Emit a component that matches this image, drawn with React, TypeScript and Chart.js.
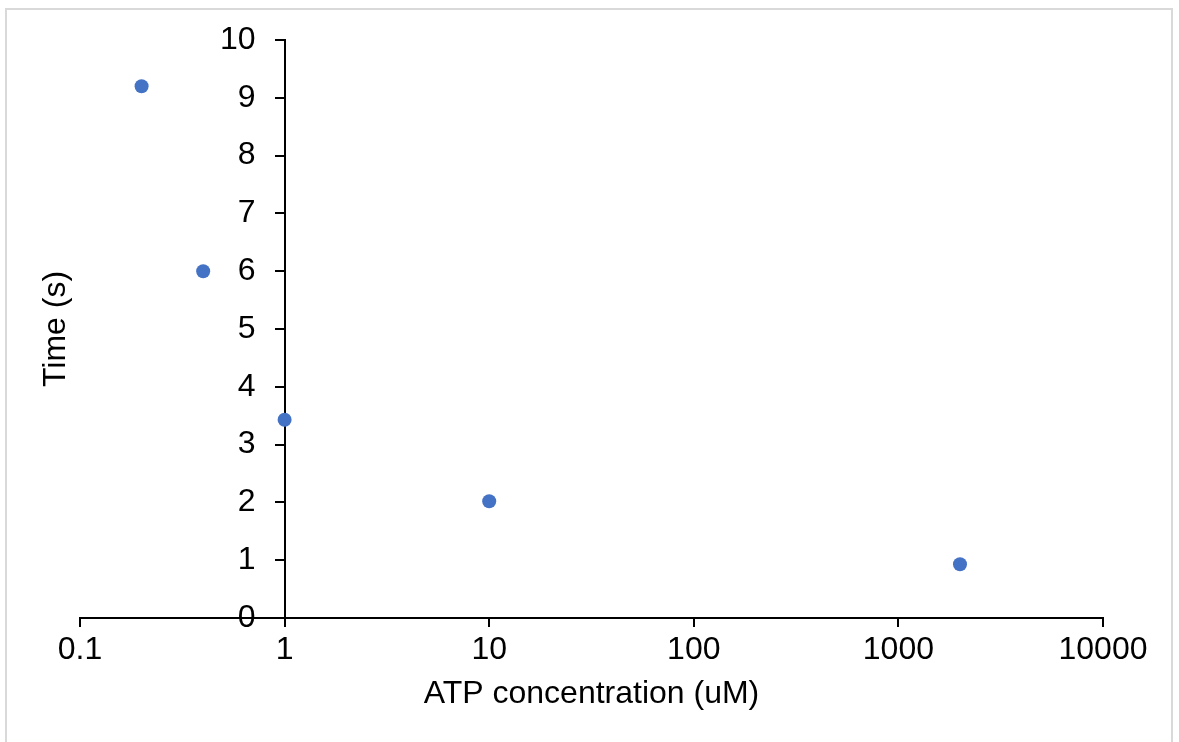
import React, { useEffect, useRef } from 'react';
import { Chart, registerables } from 'chart.js';

Chart.register(...registerables);

const xValues = [0.2, 0.4, 1, 10, 2000];
const yValues = [9.2, 6.0, 3.43, 2.02, 0.93];
const xTicks = [0.1, 1, 10, 100, 1000, 10000];
const xTickLabels = ['0.1', '1', '10', '100', '1000', '10000'];
const yMin = 0;
const yMax = 10;
const yStep = 1;
const xTitle = 'ATP concentration (uM)';
const yTitle = 'Time (s)';

const W = 1179;
const H = 742;
const FONT = '"Liberation Sans", Arial, sans-serif';
const FS = 32;
const Y_LABEL_SHIFT = 29;

const borderPlugin = {
  id: 'outerBorder',
  beforeDraw(chart: any) {
    const ctx = chart.ctx;
    ctx.save();
    ctx.fillStyle = '#ffffff';
    ctx.fillRect(0, 0, chart.width, chart.height);
    ctx.strokeStyle = '#d9d9d9';
    ctx.lineWidth = 2;
    ctx.strokeRect(6, 9, 1166, 800);
    ctx.restore();
  },
};

export default function App() {
  const ref = useRef<HTMLCanvasElement | null>(null);

  useEffect(() => {
    if (!ref.current) return;
    const zeroPad = (scale: any) => {
      scale.paddingLeft = 0;
      scale.paddingRight = 0;
      scale.paddingTop = 0;
      scale.paddingBottom = 0;
    };
    const chart = new Chart(ref.current, {
      type: 'scatter',
      data: {
        datasets: [
          {
            label: 'Time',
            data: xValues.map((x, i) => ({ x, y: yValues[i] })),
            backgroundColor: '#4472C4',
            borderColor: '#4472C4',
            borderWidth: 0,
            pointRadius: 7,
            pointHoverRadius: 7,
          },
        ],
      },
      options: {
        animation: false,
        responsive: false,
        devicePixelRatio: 1,
        layout: { padding: { left: 0, top: 40, right: W - 1103, bottom: 0 } },
        plugins: {
          legend: { display: false },
          tooltip: { enabled: false },
          title: {
            display: true,
            text: yTitle,
            position: 'left',
            fullSize: false,
            color: '#000000',
            font: { family: FONT, size: FS, weight: 'normal', lineHeight: 1.2 },
            padding: { top: 37, bottom: 4.6 },
          },
        },
        scales: {
          x: {
            type: 'logarithmic',
            position: 'bottom',
            min: xTicks[0],
            max: xTicks[xTicks.length - 1],
            afterBuildTicks: (scale: any) => {
              scale.ticks = xTicks.map((v) => ({ value: v }));
            },
            afterFit: (scale: any) => {
              zeroPad(scale);
              scale.height = H - 618;
            },
            ticks: {
              autoSkip: false,
              maxRotation: 0,
              color: '#000000',
              padding: 4,
              font: { family: FONT, size: FS },
              callback: (value: any) => {
                const i = xTicks.indexOf(Number(value));
                return i >= 0 ? xTickLabels[i] : '';
              },
            },
            grid: {
              display: true,
              drawOnChartArea: false,
              drawTicks: true,
              tickLength: 9,
              color: '#000000',
              lineWidth: 2,
            },
            border: { display: true, color: '#000000', width: 2 },
            title: {
              display: true,
              text: xTitle,
              color: '#000000',
              font: { family: FONT, size: FS },
              padding: { top: 0, bottom: 29 },
            },
          },
          y: {
            type: 'linear',
            position: { x: 1 } as any,
            min: yMin,
            max: yMax,
            afterFit: (scale: any) => {
              zeroPad(scale);
              if (!scale.__wrapped) {
                const orig = scale._computeLabelItems;
                scale._computeLabelItems = function (area: any) {
                  const items = orig.call(this, area);
                  items.forEach((it: any) => {
                    if (it.options && it.options.translation) {
                      it.options.translation = [it.options.translation[0] - Y_LABEL_SHIFT, it.options.translation[1]];
                    }
                  });
                  return items;
                };
                scale.__wrapped = true;
              }
            },
            ticks: {
              stepSize: yStep,
              color: '#000000',
              padding: 0,
              font: { family: FONT, size: FS },
            },
            grid: {
              display: true,
              drawOnChartArea: false,
              drawTicks: true,
              tickLength: 9,
              color: '#000000',
              lineWidth: 2,
            },
            border: { display: true, color: '#000000', width: 2 },
          },
        },
      },
      plugins: [borderPlugin],
    } as any);
    return () => chart.destroy();
  }, []);

  return (
    <div style={{ position: 'fixed', left: 0, top: 0, width: W, height: H, background: '#fff' }}>
      <canvas ref={ref} width={W} height={H} style={{ width: W, height: H, display: 'block' }} />
    </div>
  );
}
